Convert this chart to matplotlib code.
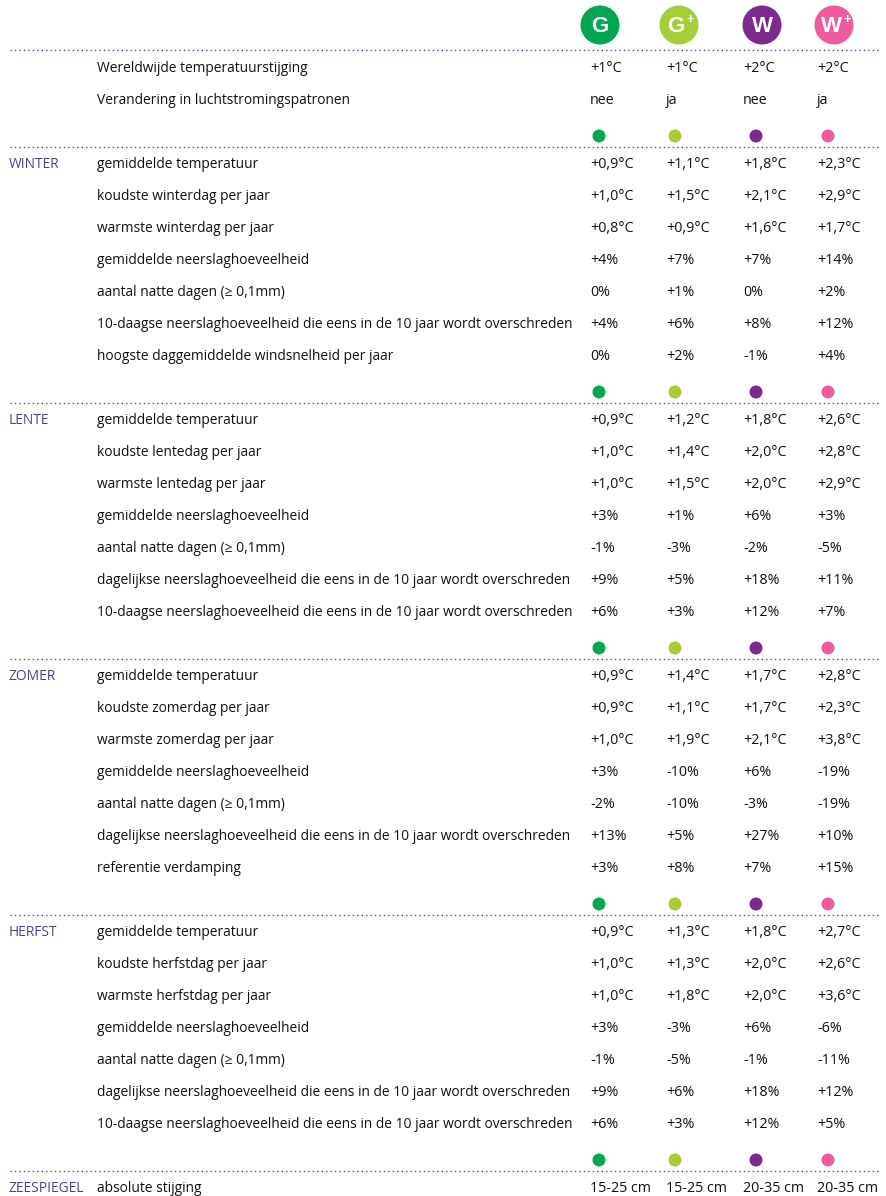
import matplotlib
matplotlib.use("Agg")
import matplotlib.pyplot as plt
from matplotlib.patches import Circle

# ---------------- data ----------------
scenarios = ["G", "G+", "W", "W+"]
scenario_colors = ["#00a651", "#a6ce39", "#7b2b8e", "#ee5ba0"]

header_labels = ["Wereldwijde temperatuurstijging", "Verandering in luchtstromingspatronen"]
header_values = [["+1°C", "+1°C", "+2°C", "+2°C"],
                 ["nee", "ja", "nee", "ja"]]

winter_labels = ["gemiddelde temperatuur", "koudste winterdag per jaar", "warmste winterdag per jaar",
                 "gemiddelde neerslaghoeveelheid", "aantal natte dagen (≥ 0,1mm)",
                 "10-daagse neerslaghoeveelheid die eens in de 10 jaar wordt overschreden",
                 "hoogste daggemiddelde windsnelheid per jaar"]
winter_values = [["+0,9°C", "+1,1°C", "+1,8°C", "+2,3°C"],
                 ["+1,0°C", "+1,5°C", "+2,1°C", "+2,9°C"],
                 ["+0,8°C", "+0,9°C", "+1,6°C", "+1,7°C"],
                 ["+4%", "+7%", "+7%", "+14%"],
                 ["0%", "+1%", "0%", "+2%"],
                 ["+4%", "+6%", "+8%", "+12%"],
                 ["0%", "+2%", "-1%", "+4%"]]

lente_labels = ["gemiddelde temperatuur", "koudste lentedag per jaar", "warmste lentedag per jaar",
                "gemiddelde neerslaghoeveelheid", "aantal natte dagen (≥ 0,1mm)",
                "dagelijkse neerslaghoeveelheid die eens in de 10 jaar wordt overschreden",
                "10-daagse neerslaghoeveelheid die eens in de 10 jaar wordt overschreden"]
lente_values = [["+0,9°C", "+1,2°C", "+1,8°C", "+2,6°C"],
                ["+1,0°C", "+1,4°C", "+2,0°C", "+2,8°C"],
                ["+1,0°C", "+1,5°C", "+2,0°C", "+2,9°C"],
                ["+3%", "+1%", "+6%", "+3%"],
                ["-1%", "-3%", "-2%", "-5%"],
                ["+9%", "+5%", "+18%", "+11%"],
                ["+6%", "+3%", "+12%", "+7%"]]

zomer_labels = ["gemiddelde temperatuur", "koudste zomerdag per jaar", "warmste zomerdag per jaar",
                "gemiddelde neerslaghoeveelheid", "aantal natte dagen (≥ 0,1mm)",
                "dagelijkse neerslaghoeveelheid die eens in de 10 jaar wordt overschreden",
                "referentie verdamping"]
zomer_values = [["+0,9°C", "+1,4°C", "+1,7°C", "+2,8°C"],
                ["+0,9°C", "+1,1°C", "+1,7°C", "+2,3°C"],
                ["+1,0°C", "+1,9°C", "+2,1°C", "+3,8°C"],
                ["+3%", "-10%", "+6%", "-19%"],
                ["-2%", "-10%", "-3%", "-19%"],
                ["+13%", "+5%", "+27%", "+10%"],
                ["+3%", "+8%", "+7%", "+15%"]]

herfst_labels = ["gemiddelde temperatuur", "koudste herfstdag per jaar", "warmste herfstdag per jaar",
                 "gemiddelde neerslaghoeveelheid", "aantal natte dagen (≥ 0,1mm)",
                 "dagelijkse neerslaghoeveelheid die eens in de 10 jaar wordt overschreden",
                 "10-daagse neerslaghoeveelheid die eens in de 10 jaar wordt overschreden"]
herfst_values = [["+0,9°C", "+1,3°C", "+1,8°C", "+2,7°C"],
                 ["+1,0°C", "+1,3°C", "+2,0°C", "+2,6°C"],
                 ["+1,0°C", "+1,8°C", "+2,0°C", "+3,6°C"],
                 ["+3%", "-3%", "+6%", "-6%"],
                 ["-1%", "-5%", "-1%", "-11%"],
                 ["+9%", "+6%", "+18%", "+12%"],
                 ["+6%", "+3%", "+12%", "+5%"]]

zee_labels = ["absolute stijging"]
zee_values = [["15-25 cm", "15-25 cm", "20-35 cm", "20-35 cm"]]

sections = [("WINTER", winter_labels, winter_values),
            ("LENTE", lente_labels, lente_values),
            ("ZOMER", zomer_labels, zomer_values),
            ("HERFST", herfst_labels, herfst_values),
            ("ZEESPIEGEL", zee_labels, zee_values)]

# ---------------- layout ----------------
W, H = 886, 1196
FONT = ["Open Sans", "DejaVu Sans"]
FS_LABEL = 9.9
FS_VALUE = 10.3
SECTION_COLOR = "#4a4196"
LINE_COLOR = "#4d4da6"
TEXT_COLOR = "#111111"

col_x = [590, 666, 743, 817]
dot_x = [599, 675, 756, 828]
big_x = [600, 679, 762, 834]
label_x = 97
section_x = 9
step = 32.0

fig = plt.figure(figsize=(W / 100, H / 100), dpi=100)
ax = fig.add_axes([0, 0, 1, 1])
ax.set_xlim(0, W)
ax.set_ylim(H, 0)
ax.axis("off")


def dotted(y):
    ax.plot([10, 880], [y, y], color=LINE_COLOR, lw=1.0, ls=(0, (1, 2.2)), solid_capstyle="butt")


def txt(x, y, s, color=TEXT_COLOR, fs=FS_LABEL, **kw):
    ax.text(x, y + 1, s, fontsize=fs, color=color, family=FONT, va="center", ha="left", **kw)


# header big circles: (letter, superscript, letter offset, superscript offset)
badge_specs = [("G", "", 0, 0), ("G", "+", -3, 11), ("W", "", 0, 0), ("W", "+", -3, 13)]
BADGE_FONT = ["Liberation Sans", "DejaVu Sans"]
for x, c, (main, sup, moff, soff) in zip(big_x, scenario_colors, badge_specs):
    ax.add_patch(Circle((x, 25), 19.5, color=c, lw=0))
    ax.text(x + moff, 26.5, main, fontsize=16, fontweight="bold", color="white",
            family=BADGE_FONT, ha="center", va="center")
    if sup:
        ax.text(x + soff, 19.5, sup, fontsize=9, fontweight="bold", color="white",
                family=BADGE_FONT, ha="center", va="center")

dotted(50)
for i, (lab, vals) in enumerate(zip(header_labels, header_values)):
    y = 68 + i * step
    txt(label_x, y, lab)
    for x, v in zip(col_x, vals):
        txt(x, y, v, fs=FS_VALUE)

first = 163.0
for name, labels, values in sections:
    # small dots and dotted separator
    for x, c in zip(dot_x, scenario_colors):
        ax.add_patch(Circle((x, first - 27), 6.5, color=c, lw=0))
    dotted(first - 16)
    txt(section_x, first, name, color=SECTION_COLOR)
    for j, (lab, vals) in enumerate(zip(labels, values)):
        y = first + j * step
        txt(label_x, y, lab)
        for x, v in zip(col_x, vals):
            txt(x, y, v, fs=FS_VALUE)
    first += 8 * step

fig.savefig("out.png", dpi=100)
